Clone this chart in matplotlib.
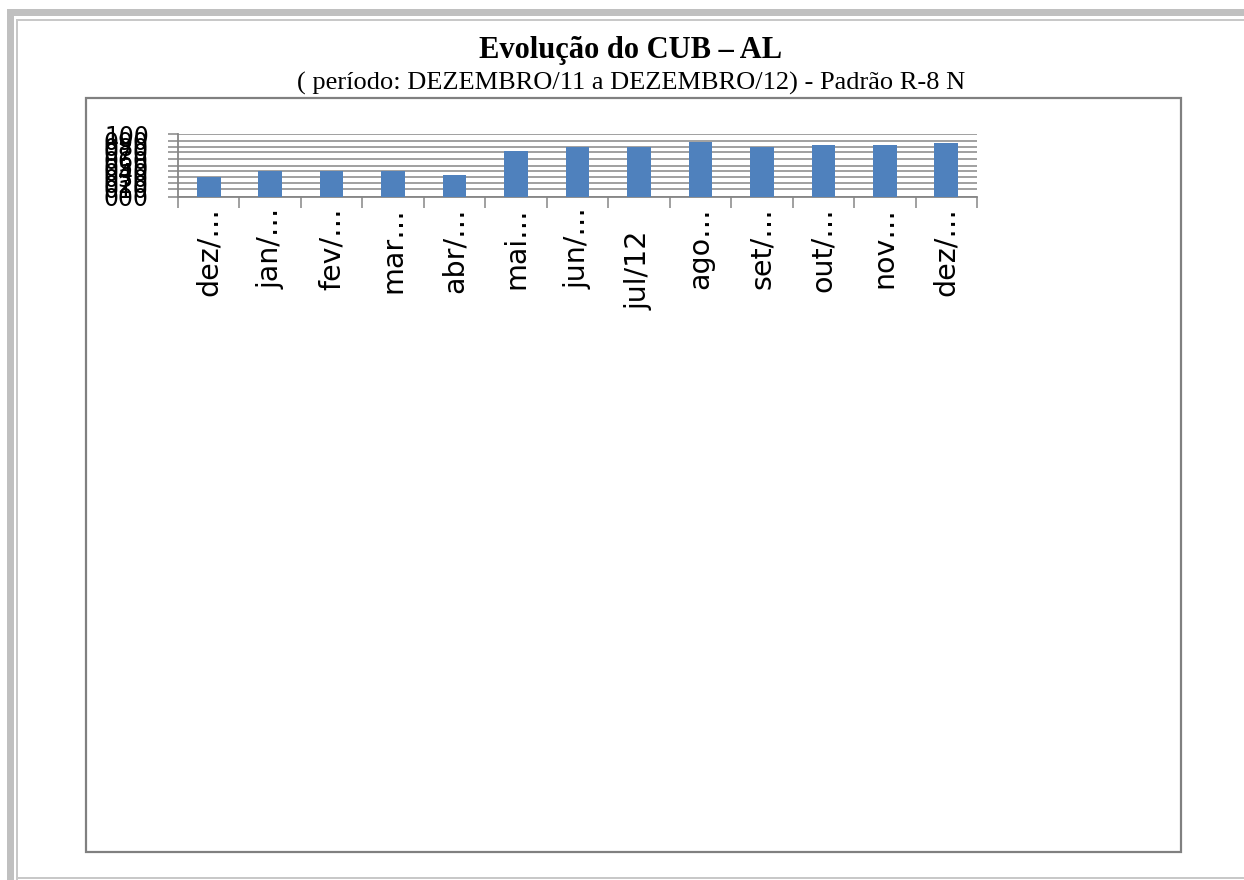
import matplotlib
matplotlib.use("Agg")
import matplotlib.pyplot as plt
from matplotlib.patches import Rectangle
from matplotlib.transforms import ScaledTranslation

# data (arbitrary axis units, 0..10)
months = ["dez/…", "jan/…", "fev/…", "mar…", "abr/…", "mai…", "jun/…",
          "jul/12", "ago…", "set/…", "out/…", "nov…", "dez/…"]
values = [3.13, 4.08, 4.08, 4.08, 3.49, 7.30, 7.94, 7.94, 8.73, 7.94, 8.30, 8.30, 8.57]
y_ticks = [0, 1.32, 2.22, 3.13, 4.08, 4.87, 6.03, 7.19, 7.94, 8.94, 10]
y_labels = ["000", "010", "020", "030", "040", "050", "060", "070", "080", "090", "100"]

W, H = 1244, 880
BAR = "#4F81BD"
GRID = "#868686"

fig = plt.figure(figsize=(W / 100, H / 100), dpi=100)
fig.patch.set_facecolor("white")


def fx(px):
    return px / W


def fy(py):
    return 1 - py / H


def box(x0, y0, x1, y1, **kw):
    # rectangle given in pixel coords (y from top)
    fig.add_artist(Rectangle((fx(x0), fy(y1)), fx(x1 - x0), (y1 - y0) / H,
                             transform=fig.transFigure, **kw))


# page frame
box(7, 9, W + 2, 16, facecolor="#c0c0c0", edgecolor="none")
box(7, 9, 14, H + 2, facecolor="#c0c0c0", edgecolor="none")
box(17, 19, W + 2, 21, facecolor="#c8c8c8", edgecolor="none")
box(16, 19, 18, 880, facecolor="#c8c8c8", edgecolor="none")
box(17, 877, W + 2, 879, facecolor="#c8c8c8", edgecolor="none")

# chart box
box(86, 98, 1181, 852, facecolor="none", edgecolor="#808080", linewidth=1.6)

fig.text(fx(631), fy(58), "Evolução do CUB – AL", ha="center", va="baseline",
         family="Liberation Serif", fontweight="bold", fontsize=22)
fig.text(fx(631), fy(90), "( período: DEZEMBRO/11 a DEZEMBRO/12) - Padrão R-8 N",
         ha="center", va="baseline", family="Liberation Serif", fontsize=19)

ax = fig.add_axes([fx(178), fy(197), fx(977 - 178), 63 / H])
x = list(range(len(months)))
ax.bar(x, values, width=0.385, color=BAR, zorder=3)
ax.set_xlim(-0.5, len(months) - 0.5)
ax.set_ylim(0, 10)

ax.set_yticks(y_ticks)
ax.set_yticklabels(y_labels, fontsize=17, family="DejaVu Sans")
ax.yaxis.grid(True, color=GRID, linewidth=1.1, zorder=1)
ax.tick_params(axis="y", length=7.5, width=1.1, color=GRID, pad=13.5)

ax.set_xticks([i - 0.5 for i in range(len(months) + 1)])
ax.set_xticklabels([])
ax.set_xticks(x, minor=True)
ax.set_xticklabels(months, minor=True, rotation=90, fontsize=20.5,
                   family="DejaVu Sans", va="top", ha="center")
ax.tick_params(axis="x", which="major", length=8, width=1.1, color=GRID)
ax.tick_params(axis="x", which="minor", length=0, pad=7.5)

# the one untruncated label sits lower
for lab in ax.get_xticklabels(minor=True):
    if lab.get_text() == "jul/12":
        lab.set_transform(lab.get_transform() + ScaledTranslation(0, -23 / 100, fig.dpi_scale_trans))

for s in ["top", "right"]:
    ax.spines[s].set_visible(False)
for s in ["left", "bottom"]:
    ax.spines[s].set_color(GRID)
    ax.spines[s].set_linewidth(1.3)
ax.set_facecolor("none")

fig.savefig("out.png", dpi=100)
